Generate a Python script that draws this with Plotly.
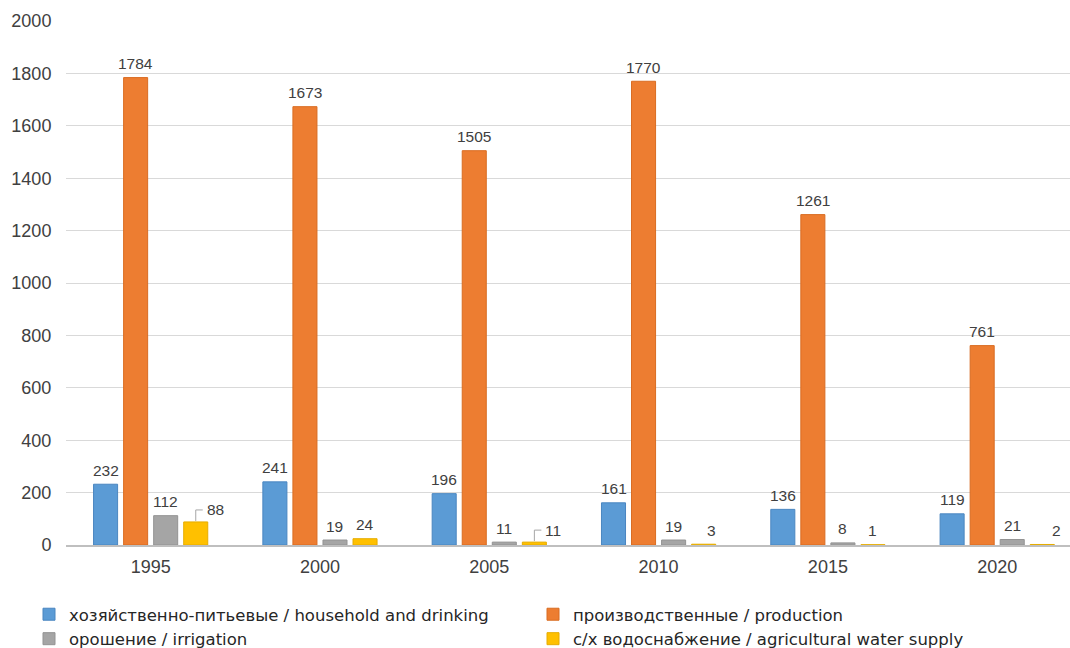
import plotly.graph_objects as go

years = ["1995", "2000", "2005", "2010", "2015", "2020"]
household = [232, 241, 196, 161, 136, 119]
production = [1784, 1673, 1505, 1770, 1261, 761]
irrigation = [112, 19, 11, 19, 8, 21]
agricultural = [88, 24, 11, 3, 1, 2]

names = [
    "хозяйственно-питьевые / household and drinking",
    "производственные / production",
    "орошение / irrigation",
    "с/х водоснабжение / agricultural water supply",
]
colors = ["#5B9BD5", "#ED7D31", "#A5A5A5", "#FFC000"]
edge = ["#4A86C0", "#D96C22", "#939393", "#E6AC00"]
callout_years = ["1995", "2005"]          # yellow labels drawn with leader lines
label_dx = {(3, "2010"): 8, (3, "2020"): 14}  # small horizontal label nudges (px)

W, H = 1070, 648
ML, MR, MT, MB = 66, 0, 21, 103
x_range = [-0.5, 5.43]
bargap, bargroupgap = 0.29, 0.2

label_font = dict(family="Liberation Sans, Arial, sans-serif", size=15.5, color="#404040")

plot_w = W - ML - MR
cat_px = plot_w / (x_range[1] - x_range[0])
slot = cat_px * (1 - bargap) / 4

fig = go.Figure()
series = [household, production, irrigation, agricultural]
legend_of = ["legend", "legend2", "legend", "legend2"]
for i, (vals, name) in enumerate(zip(series, names)):
    fig.add_trace(go.Bar(
        x=years, y=vals, name=name,
        marker=dict(color=colors[i], line=dict(color=edge[i], width=1)),
        legend=legend_of[i], cliponaxis=False,
    ))
    off = (i - 1.5) * slot
    for idx, (yr, v) in enumerate(zip(years, vals)):
        if i == 3 and yr in callout_years:
            rise = 12
            fig.add_shape(
                type="path", xref="x", yref="y",
                xsizemode="pixel", ysizemode="pixel",
                xanchor=idx, yanchor=v,
                path=f"M{off:.1f},1 L{off:.1f},{rise} L{off + 7:.1f},{rise}",
                line=dict(color="#A6A6A6", width=1),
            )
            fig.add_annotation(
                x=idx, y=v, xref="x", yref="y", text=str(v), showarrow=False,
                xshift=off + 9, yshift=rise, xanchor="left", yanchor="middle",
                font=label_font,
            )
        else:
            fig.add_annotation(
                x=idx, y=v, xref="x", yref="y", text=str(v), showarrow=False,
                xshift=off + label_dx.get((i, yr), 0), yshift=14,
                xanchor="center", yanchor="middle", font=label_font,
            )

legend_common = dict(
    orientation="v", xref="container", yref="container",
    yanchor="top", xanchor="left",
    font=dict(family="DejaVu Sans, Liberation Sans, sans-serif", size=16.5, color="#262626"),
    itemwidth=30, tracegroupgap=0, bgcolor="rgba(0,0,0,0)",
)
fig.update_layout(
    width=W, height=H,
    margin=dict(l=ML, r=MR, t=MT, b=MB, autoexpand=False),
    paper_bgcolor="white", plot_bgcolor="white",
    barmode="group", bargap=bargap, bargroupgap=bargroupgap,
    font=dict(family="Liberation Sans, Arial, sans-serif", color="#404040"),
    showlegend=True,
    legend=dict(x=29 / W, y=1 - 597 / H, **legend_common),
    legend2=dict(x=533 / W, y=1 - 597 / H, **legend_common),
)
fig.update_xaxes(
    type="category", range=x_range, automargin=False, tickangle=0,
    showgrid=False, showline=True, linecolor="#BFBFBF", linewidth=1.5,
    ticks="outside", ticklen=5, tickcolor="rgba(0,0,0,0)",
    tickfont=dict(size=18, color="#404040"),
)
fig.update_yaxes(
    range=[0, 2000], dtick=200, automargin=False,
    showgrid=True, gridcolor="#D9D9D9", gridwidth=1,
    zeroline=False, showline=False,
    ticks="outside", ticklen=10, tickcolor="rgba(0,0,0,0)",
    tickfont=dict(size=18, color="#404040"),
)

fig.write_html("out.html")
